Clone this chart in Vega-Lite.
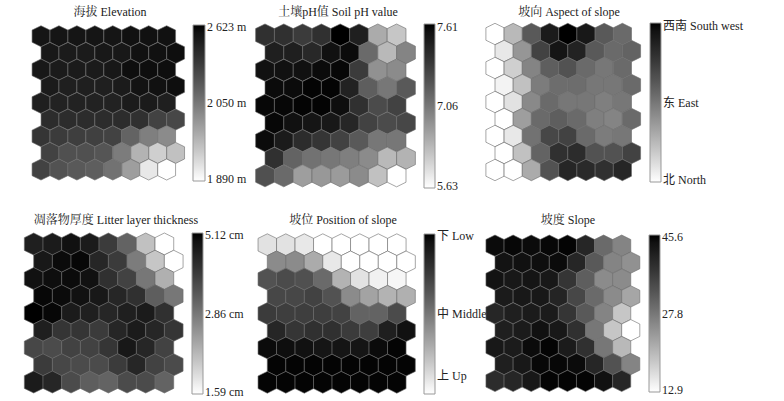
{"$schema":"https://vega.github.io/schema/vega-lite/v6.json","padding":0,"background":"white","bounds":"flush","spacing":0,"columns":3,"align":"none","resolve":{"scale":{"color":"independent"},"legend":{"color":"independent"}},
"config":{"view":{"stroke":null},"concat":{"spacing":0},"title":{"font":"Liberation Serif, Noto Serif CJK SC, Noto Sans CJK SC","fontWeight":"normal","fontSize":12,"color":"#222"},"legend":{"labelFont":"Liberation Serif, Noto Sans CJK SC","labelFontSize":12,"labelColor":"#222","gradientStrokeColor":"#999","gradientStrokeWidth":1,"labelOffset":3,"labelLimit":200,"labelOverlap":false,"title":null,"orient":"none","direction":"vertical"}},
"datasets":{
"d1":[{"x":0,"y":0,"v":93},{"x":1,"y":0,"v":93},{"x":2,"y":0,"v":93},{"x":3,"y":0,"v":93},{"x":4,"y":0,"v":93},{"x":5,"y":0,"v":95},{"x":6,"y":0,"v":95},{"x":7,"y":0,"v":95},
{"x":0.5,"y":1,"v":92},{"x":1.5,"y":1,"v":90},{"x":2.5,"y":1,"v":90},{"x":3.5,"y":1,"v":92},{"x":4.5,"y":1,"v":92},{"x":5.5,"y":1,"v":95},{"x":6.5,"y":1,"v":95},{"x":7.5,"y":1,"v":96},
{"x":0,"y":2,"v":92},{"x":1,"y":2,"v":90},{"x":2,"y":2,"v":90},{"x":3,"y":2,"v":90},{"x":4,"y":2,"v":92},{"x":5,"y":2,"v":96},{"x":6,"y":2,"v":96},{"x":7,"y":2,"v":96},
{"x":0.5,"y":3,"v":90},{"x":1.5,"y":3,"v":88},{"x":2.5,"y":3,"v":88},{"x":3.5,"y":3,"v":88},{"x":4.5,"y":3,"v":90},{"x":5.5,"y":3,"v":94},{"x":6.5,"y":3,"v":95},{"x":7.5,"y":3,"v":96},
{"x":0,"y":4,"v":88},{"x":1,"y":4,"v":87},{"x":2,"y":4,"v":87},{"x":3,"y":4,"v":87},{"x":4,"y":4,"v":87},{"x":5,"y":4,"v":90},{"x":6,"y":4,"v":90},{"x":7,"y":4,"v":88},
{"x":0.5,"y":5,"v":82},{"x":1.5,"y":5,"v":82},{"x":2.5,"y":5,"v":82},{"x":3.5,"y":5,"v":82},{"x":4.5,"y":5,"v":82},{"x":5.5,"y":5,"v":80},{"x":6.5,"y":5,"v":72},{"x":7.5,"y":5,"v":70},
{"x":0,"y":6,"v":78},{"x":1,"y":6,"v":75},{"x":2,"y":6,"v":74},{"x":3,"y":6,"v":73},{"x":4,"y":6,"v":72},{"x":5,"y":6,"v":58},{"x":6,"y":6,"v":47},{"x":7,"y":6,"v":42},
{"x":0.5,"y":7,"v":72},{"x":1.5,"y":7,"v":66},{"x":2.5,"y":7,"v":66},{"x":3.5,"y":7,"v":64},{"x":4.5,"y":7,"v":48},{"x":5.5,"y":7,"v":27},{"x":6.5,"y":7,"v":17},{"x":7.5,"y":7,"v":22},
{"x":0,"y":8,"v":72},{"x":1,"y":8,"v":65},{"x":2,"y":8,"v":62},{"x":3,"y":8,"v":60},{"x":4,"y":8,"v":52},{"x":5,"y":8,"v":35},{"x":6,"y":8,"v":8},{"x":7,"y":8,"v":0}],
"d2":[{"x":0,"y":0,"v":80},{"x":1,"y":0,"v":80},{"x":2,"y":0,"v":75},{"x":3,"y":0,"v":80},{"x":4,"y":0,"v":100},{"x":5,"y":0,"v":88},{"x":6,"y":0,"v":30},{"x":7,"y":0,"v":20},
{"x":0.5,"y":1,"v":88},{"x":1.5,"y":1,"v":88},{"x":2.5,"y":1,"v":84},{"x":3.5,"y":1,"v":95},{"x":4.5,"y":1,"v":97},{"x":5.5,"y":1,"v":55},{"x":6.5,"y":1,"v":25},{"x":7.5,"y":1,"v":45},
{"x":0,"y":2,"v":95},{"x":1,"y":2,"v":95},{"x":2,"y":2,"v":95},{"x":3,"y":2,"v":97},{"x":4,"y":2,"v":98},{"x":5,"y":2,"v":75},{"x":6,"y":2,"v":40},{"x":7,"y":2,"v":42},
{"x":0.5,"y":3,"v":97},{"x":1.5,"y":3,"v":97},{"x":2.5,"y":3,"v":99},{"x":3.5,"y":3,"v":99},{"x":4.5,"y":3,"v":87},{"x":5.5,"y":3,"v":60},{"x":6.5,"y":3,"v":50},{"x":7.5,"y":3,"v":62},
{"x":0,"y":4,"v":98},{"x":1,"y":4,"v":98},{"x":2,"y":4,"v":99},{"x":3,"y":4,"v":99},{"x":4,"y":4,"v":96},{"x":5,"y":4,"v":80},{"x":6,"y":4,"v":68},{"x":7,"y":4,"v":72},
{"x":0.5,"y":5,"v":98},{"x":1.5,"y":5,"v":95},{"x":2.5,"y":5,"v":93},{"x":3.5,"y":5,"v":92},{"x":4.5,"y":5,"v":85},{"x":5.5,"y":5,"v":72},{"x":6.5,"y":5,"v":68},{"x":7.5,"y":5,"v":70},
{"x":0,"y":6,"v":97},{"x":1,"y":6,"v":90},{"x":2,"y":6,"v":82},{"x":3,"y":6,"v":78},{"x":4,"y":6,"v":72},{"x":5,"y":6,"v":62},{"x":6,"y":6,"v":50},{"x":7,"y":6,"v":50},
{"x":0.5,"y":7,"v":80},{"x":1.5,"y":7,"v":58},{"x":2.5,"y":7,"v":52},{"x":3.5,"y":7,"v":50},{"x":4.5,"y":7,"v":47},{"x":5.5,"y":7,"v":42},{"x":6.5,"y":7,"v":25},{"x":7.5,"y":7,"v":27},
{"x":0,"y":8,"v":66},{"x":1,"y":8,"v":55},{"x":2,"y":8,"v":35},{"x":3,"y":8,"v":37},{"x":4,"y":8,"v":36},{"x":5,"y":8,"v":42},{"x":6,"y":8,"v":22},{"x":7,"y":8,"v":0}],
"d3":[{"x":0,"y":0,"v":0},{"x":1,"y":0,"v":25},{"x":2,"y":0,"v":62},{"x":3,"y":0,"v":90},{"x":4,"y":0,"v":100},{"x":5,"y":0,"v":92},{"x":6,"y":0,"v":62},{"x":7,"y":0,"v":55},
{"x":0.5,"y":1,"v":8},{"x":1.5,"y":1,"v":38},{"x":2.5,"y":1,"v":72},{"x":3.5,"y":1,"v":93},{"x":4.5,"y":1,"v":87},{"x":5.5,"y":1,"v":62},{"x":6.5,"y":1,"v":55},{"x":7.5,"y":1,"v":58},
{"x":0,"y":2,"v":0},{"x":1,"y":2,"v":17},{"x":2,"y":2,"v":45},{"x":3,"y":2,"v":60},{"x":4,"y":2,"v":65},{"x":5,"y":2,"v":55},{"x":6,"y":2,"v":50},{"x":7,"y":2,"v":55},
{"x":0.5,"y":3,"v":4},{"x":1.5,"y":3,"v":22},{"x":2.5,"y":3,"v":48},{"x":3.5,"y":3,"v":54},{"x":4.5,"y":3,"v":54},{"x":5.5,"y":3,"v":50},{"x":6.5,"y":3,"v":50},{"x":7.5,"y":3,"v":55},
{"x":0,"y":4,"v":0},{"x":1,"y":4,"v":10},{"x":2,"y":4,"v":43},{"x":3,"y":4,"v":55},{"x":4,"y":4,"v":50},{"x":5,"y":4,"v":50},{"x":6,"y":4,"v":47},{"x":7,"y":4,"v":50},
{"x":0.5,"y":5,"v":0},{"x":1.5,"y":5,"v":35},{"x":2.5,"y":5,"v":55},{"x":3.5,"y":5,"v":60},{"x":4.5,"y":5,"v":55},{"x":5.5,"y":5,"v":47},{"x":6.5,"y":5,"v":45},{"x":7.5,"y":5,"v":55},
{"x":0,"y":6,"v":0},{"x":1,"y":6,"v":8},{"x":2,"y":6,"v":52},{"x":3,"y":6,"v":70},{"x":4,"y":6,"v":72},{"x":5,"y":6,"v":55},{"x":6,"y":6,"v":48},{"x":7,"y":6,"v":50},
{"x":0.5,"y":7,"v":0},{"x":1.5,"y":7,"v":22},{"x":2.5,"y":7,"v":58},{"x":3.5,"y":7,"v":80},{"x":4.5,"y":7,"v":82},{"x":5.5,"y":7,"v":65},{"x":6.5,"y":7,"v":65},{"x":7.5,"y":7,"v":72},
{"x":0,"y":8,"v":0},{"x":1,"y":8,"v":0},{"x":2,"y":8,"v":30},{"x":3,"y":8,"v":65},{"x":4,"y":8,"v":85},{"x":5,"y":8,"v":83},{"x":6,"y":8,"v":80},{"x":7,"y":8,"v":85}],
"d4":[{"x":0,"y":0,"v":88},{"x":1,"y":0,"v":90},{"x":2,"y":0,"v":95},{"x":3,"y":0,"v":90},{"x":4,"y":0,"v":75},{"x":5,"y":0,"v":58},{"x":6,"y":0,"v":22},{"x":7,"y":0,"v":0},
{"x":0.5,"y":1,"v":92},{"x":1.5,"y":1,"v":97},{"x":2.5,"y":1,"v":98},{"x":3.5,"y":1,"v":85},{"x":4.5,"y":1,"v":75},{"x":5.5,"y":1,"v":48},{"x":6.5,"y":1,"v":20},{"x":7.5,"y":1,"v":0},
{"x":0,"y":2,"v":95},{"x":1,"y":2,"v":96},{"x":2,"y":2,"v":97},{"x":3,"y":2,"v":95},{"x":4,"y":2,"v":80},{"x":5,"y":2,"v":72},{"x":6,"y":2,"v":50},{"x":7,"y":2,"v":28},
{"x":0.5,"y":3,"v":98},{"x":1.5,"y":3,"v":97},{"x":2.5,"y":3,"v":95},{"x":3.5,"y":3,"v":92},{"x":4.5,"y":3,"v":85},{"x":5.5,"y":3,"v":80},{"x":6.5,"y":3,"v":60},{"x":7.5,"y":3,"v":50},
{"x":0,"y":4,"v":100},{"x":1,"y":4,"v":98},{"x":2,"y":4,"v":90},{"x":3,"y":4,"v":88},{"x":4,"y":4,"v":85},{"x":5,"y":4,"v":88},{"x":6,"y":4,"v":90},{"x":7,"y":4,"v":80},
{"x":0.5,"y":5,"v":88},{"x":1.5,"y":5,"v":78},{"x":2.5,"y":5,"v":78},{"x":3.5,"y":5,"v":75},{"x":4.5,"y":5,"v":85},{"x":5.5,"y":5,"v":90},{"x":6.5,"y":5,"v":85},{"x":7.5,"y":5,"v":78},
{"x":0,"y":6,"v":70},{"x":1,"y":6,"v":68},{"x":2,"y":6,"v":72},{"x":3,"y":6,"v":72},{"x":4,"y":6,"v":78},{"x":5,"y":6,"v":92},{"x":6,"y":6,"v":85},{"x":7,"y":6,"v":72},
{"x":0.5,"y":7,"v":75},{"x":1.5,"y":7,"v":70},{"x":2.5,"y":7,"v":68},{"x":3.5,"y":7,"v":68},{"x":4.5,"y":7,"v":75},{"x":5.5,"y":7,"v":85},{"x":6.5,"y":7,"v":72},{"x":7.5,"y":7,"v":68},
{"x":0,"y":8,"v":90},{"x":1,"y":8,"v":85},{"x":2,"y":8,"v":68},{"x":3,"y":8,"v":60},{"x":4,"y":8,"v":58},{"x":5,"y":8,"v":68},{"x":6,"y":8,"v":68},{"x":7,"y":8,"v":58}],
"d5":[{"x":0,"y":0,"v":10},{"x":1,"y":0,"v":10},{"x":2,"y":0,"v":8},{"x":3,"y":0,"v":0},{"x":4,"y":0,"v":0},{"x":5,"y":0,"v":0},{"x":6,"y":0,"v":0},{"x":7,"y":0,"v":0},
{"x":0.5,"y":1,"v":42},{"x":1.5,"y":1,"v":42},{"x":2.5,"y":1,"v":30},{"x":3.5,"y":1,"v":8},{"x":4.5,"y":1,"v":0},{"x":5.5,"y":1,"v":0},{"x":6.5,"y":1,"v":0},{"x":7.5,"y":1,"v":0},
{"x":0,"y":2,"v":65},{"x":1,"y":2,"v":68},{"x":2,"y":2,"v":66},{"x":3,"y":2,"v":55},{"x":4,"y":2,"v":27},{"x":5,"y":2,"v":10},{"x":6,"y":2,"v":5},{"x":7,"y":2,"v":3},
{"x":0.5,"y":3,"v":70},{"x":1.5,"y":3,"v":70},{"x":2.5,"y":3,"v":72},{"x":3.5,"y":3,"v":65},{"x":4.5,"y":3,"v":42},{"x":5.5,"y":3,"v":33},{"x":6.5,"y":3,"v":27},{"x":7.5,"y":3,"v":28},
{"x":0,"y":4,"v":75},{"x":1,"y":4,"v":74},{"x":2,"y":4,"v":74},{"x":3,"y":4,"v":74},{"x":4,"y":4,"v":72},{"x":5,"y":4,"v":58},{"x":6,"y":4,"v":58},{"x":7,"y":4,"v":68},
{"x":0.5,"y":5,"v":85},{"x":1.5,"y":5,"v":78},{"x":2.5,"y":5,"v":80},{"x":3.5,"y":5,"v":80},{"x":4.5,"y":5,"v":75},{"x":5.5,"y":5,"v":74},{"x":6.5,"y":5,"v":88},{"x":7.5,"y":5,"v":95},
{"x":0,"y":6,"v":97},{"x":1,"y":6,"v":96},{"x":2,"y":6,"v":95},{"x":3,"y":6,"v":93},{"x":4,"y":6,"v":93},{"x":5,"y":6,"v":93},{"x":6,"y":6,"v":97},{"x":7,"y":6,"v":99},
{"x":0.5,"y":7,"v":99},{"x":1.5,"y":7,"v":99},{"x":2.5,"y":7,"v":99},{"x":3.5,"y":7,"v":99},{"x":4.5,"y":7,"v":99},{"x":5.5,"y":7,"v":99},{"x":6.5,"y":7,"v":99},{"x":7.5,"y":7,"v":99},
{"x":0,"y":8,"v":99},{"x":1,"y":8,"v":99},{"x":2,"y":8,"v":99},{"x":3,"y":8,"v":99},{"x":4,"y":8,"v":99},{"x":5,"y":8,"v":99},{"x":6,"y":8,"v":99},{"x":7,"y":8,"v":99}],
"d6":[{"x":0,"y":0,"v":97},{"x":1,"y":0,"v":98},{"x":2,"y":0,"v":97},{"x":3,"y":0,"v":98},{"x":4,"y":0,"v":99},{"x":5,"y":0,"v":85},{"x":6,"y":0,"v":55},{"x":7,"y":0,"v":45},
{"x":0.5,"y":1,"v":94},{"x":1.5,"y":1,"v":95},{"x":2.5,"y":1,"v":96},{"x":3.5,"y":1,"v":97},{"x":4.5,"y":1,"v":85},{"x":5.5,"y":1,"v":62},{"x":6.5,"y":1,"v":45},{"x":7.5,"y":1,"v":40},
{"x":0,"y":2,"v":94},{"x":1,"y":2,"v":92},{"x":2,"y":2,"v":93},{"x":3,"y":2,"v":92},{"x":4,"y":2,"v":78},{"x":5,"y":2,"v":60},{"x":6,"y":2,"v":42},{"x":7,"y":2,"v":42},
{"x":0.5,"y":3,"v":90},{"x":1.5,"y":3,"v":92},{"x":2.5,"y":3,"v":92},{"x":3.5,"y":3,"v":86},{"x":4.5,"y":3,"v":70},{"x":5.5,"y":3,"v":55},{"x":6.5,"y":3,"v":42},{"x":7.5,"y":3,"v":32},
{"x":0,"y":4,"v":85},{"x":1,"y":4,"v":88},{"x":2,"y":4,"v":90},{"x":3,"y":4,"v":90},{"x":4,"y":4,"v":78},{"x":5,"y":4,"v":62},{"x":6,"y":4,"v":45},{"x":7,"y":4,"v":20},
{"x":0.5,"y":5,"v":88},{"x":1.5,"y":5,"v":90},{"x":2.5,"y":5,"v":95},{"x":3.5,"y":5,"v":92},{"x":4.5,"y":5,"v":80},{"x":5.5,"y":5,"v":50},{"x":6.5,"y":5,"v":20},{"x":7.5,"y":5,"v":0},
{"x":0,"y":6,"v":92},{"x":1,"y":6,"v":90},{"x":2,"y":6,"v":97},{"x":3,"y":6,"v":99},{"x":4,"y":6,"v":90},{"x":5,"y":6,"v":80},{"x":6,"y":6,"v":50},{"x":7,"y":6,"v":25},
{"x":0.5,"y":7,"v":88},{"x":1.5,"y":7,"v":92},{"x":2.5,"y":7,"v":98},{"x":3.5,"y":7,"v":98},{"x":4.5,"y":7,"v":97},{"x":5.5,"y":7,"v":85},{"x":6.5,"y":7,"v":65},{"x":7.5,"y":7,"v":45},
{"x":0,"y":8,"v":82},{"x":1,"y":8,"v":85},{"x":2,"y":8,"v":92},{"x":3,"y":8,"v":99},{"x":4,"y":8,"v":99},{"x":5,"y":8,"v":99},{"x":6,"y":8,"v":95},{"x":7,"y":8,"v":85}]
},
"concat":[
{"width":234,"height":200,"data":{"name":"d1"},"title":{"text":"海拔 Elevation","anchor":"start","align":"center","dx":110,"offset":-19},
"mark":{"type":"point","filled":true,"opacity":1,"size":441,"shape":"M0,-1L.85,-.58L.85,.58L0,1L-.85,.58L-.85,-.58Z","stroke":"#6a6a6a","strokeWidth":0.6},
"encoding":{"x":{"field":"x","type":"quantitative","axis":null,"scale":{"domain":[-2.284,10.752],"nice":false,"zero":false}},"y":{"field":"y","type":"quantitative","axis":null,"scale":{"domain":[9.826,-2.172],"nice":false,"zero":false}},
"color":{"field":"v","type":"quantitative","scale":{"domain":[0,100],"range":["#ffffff","#000000"]},"legend":{"legendX":193,"legendY":25,"gradientLength":156,"gradientThickness":12,"values":[1,50,99],"labelExpr":"datum.value<25?'1 890 m':datum.value<75?'2 050 m':'2 623 m'"}}}},
{"width":230,"height":200,"data":{"name":"d2"},"title":{"text":"土壤pH值 Soil pH value","anchor":"start","align":"center","dx":104,"offset":-19},
"mark":{"type":"point","filled":true,"opacity":1,"size":488,"shape":"M0,-1L.85,-.58L.85,.58L0,1L-.85,.58L-.85,-.58Z","stroke":"#6a6a6a","strokeWidth":0.6},
"encoding":{"x":{"field":"x","type":"quantitative","axis":null,"scale":{"domain":[-1.649,10.585],"nice":false,"zero":false}},"y":{"field":"y","type":"quantitative","axis":null,"scale":{"domain":[9.375,-1.989],"nice":false,"zero":false}},
"color":{"field":"v","type":"quantitative","scale":{"domain":[0,100],"range":["#ffffff","#000000"]},"legend":{"legendX":190,"legendY":24,"gradientLength":164,"gradientThickness":11,"values":[1,50,98],"labelExpr":"datum.value<25?'5.63':datum.value<75?'7.06':'7.61'"}}}},
{"width":320,"height":200,"data":{"name":"d3"},"title":{"text":"坡向 Aspect of slope","anchor":"start","align":"center","dx":105,"offset":-19},
"mark":{"type":"point","filled":true,"opacity":1,"size":458,"shape":"M0,-1L.85,-.58L.85,.58L0,1L-.85,.58L-.85,-.58Z","stroke":"#6a6a6a","strokeWidth":0.6},
"encoding":{"x":{"field":"x","type":"quantitative","axis":null,"scale":{"domain":[-1.703,15.879],"nice":false,"zero":false}},"y":{"field":"y","type":"quantitative","axis":null,"scale":{"domain":[9.765,-2],"nice":false,"zero":false}},
"color":{"field":"v","type":"quantitative","scale":{"domain":[0,100],"range":["#ffffff","#000000"]},"legend":{"legendX":186,"legendY":23,"gradientLength":159,"gradientThickness":11,"values":[1,50,98],"labelExpr":"datum.value<25?'北 North':datum.value<75?'东 East':'西南 South west'"}}}},
{"width":234,"height":201,"data":{"name":"d4"},"title":{"text":"凋落物厚度 Litter layer thickness","anchor":"start","align":"center","dx":116,"offset":-27},
"mark":{"type":"point","filled":true,"opacity":1,"size":484,"shape":"M0,-1L.85,-.58L.85,.58L0,1L-.85,.58L-.85,-.58Z","stroke":"#6a6a6a","strokeWidth":0.6},
"encoding":{"x":{"field":"x","type":"quantitative","axis":null,"scale":{"domain":[-1.805,10.729],"nice":false,"zero":false}},"y":{"field":"y","type":"quantitative","axis":null,"scale":{"domain":[9.101,-2.551],"nice":false,"zero":false}},
"color":{"field":"v","type":"quantitative","scale":{"domain":[0,100],"range":["#ffffff","#000000"]},"legend":{"legendX":192,"legendY":33,"gradientLength":161,"gradientThickness":11,"values":[1,50,99],"labelExpr":"datum.value<25?'1.59 cm':datum.value<75?'2.86 cm':'5.12 cm'"}}}},
{"width":230,"height":201,"data":{"name":"d5"},"title":{"text":"坡位 Position of slope","anchor":"start","align":"center","dx":109,"offset":-27},
"mark":{"type":"point","filled":true,"opacity":1,"size":475,"shape":"M0,-1L.85,-.58L.85,.58L0,1L-.85,.58L-.85,-.58Z","stroke":"#6a6a6a","strokeWidth":0.6},
"encoding":{"x":{"field":"x","type":"quantitative","axis":null,"scale":{"domain":[-1.8,10.632],"nice":false,"zero":false}},"y":{"field":"y","type":"quantitative","axis":null,"scale":{"domain":[9.087,-2.599],"nice":false,"zero":false}},
"color":{"field":"v","type":"quantitative","scale":{"domain":[0,100],"range":["#ffffff","#000000"]},"legend":{"legendX":190,"legendY":34,"gradientLength":160,"gradientThickness":11,"values":[11.5,50,98.5],"labelExpr":"datum.value<25?'上 Up':datum.value<75?'中 Middle':'下 Low'"}}}},
{"width":320,"height":201,"data":{"name":"d6"},"title":{"text":"坡度 Slope","anchor":"start","align":"center","dx":104,"offset":-27},
"mark":{"type":"point","filled":true,"opacity":1,"size":454,"shape":"M0,-1L.85,-.58L.85,.58L0,1L-.85,.58L-.85,-.58Z","stroke":"#6a6a6a","strokeWidth":0.6},
"encoding":{"x":{"field":"x","type":"quantitative","axis":null,"scale":{"domain":[-1.713,15.967],"nice":false,"zero":false}},"y":{"field":"y","type":"quantitative","axis":null,"scale":{"domain":[9.189,-2.704],"nice":false,"zero":false}},
"color":{"field":"v","type":"quantitative","scale":{"domain":[0,100],"range":["#ffffff","#000000"]},"legend":{"legendX":185,"legendY":35,"gradientLength":157,"gradientThickness":11,"values":[1,50,99],"labelExpr":"datum.value<25?'12.9':datum.value<75?'27.8':'45.6'"}}}}
]}
